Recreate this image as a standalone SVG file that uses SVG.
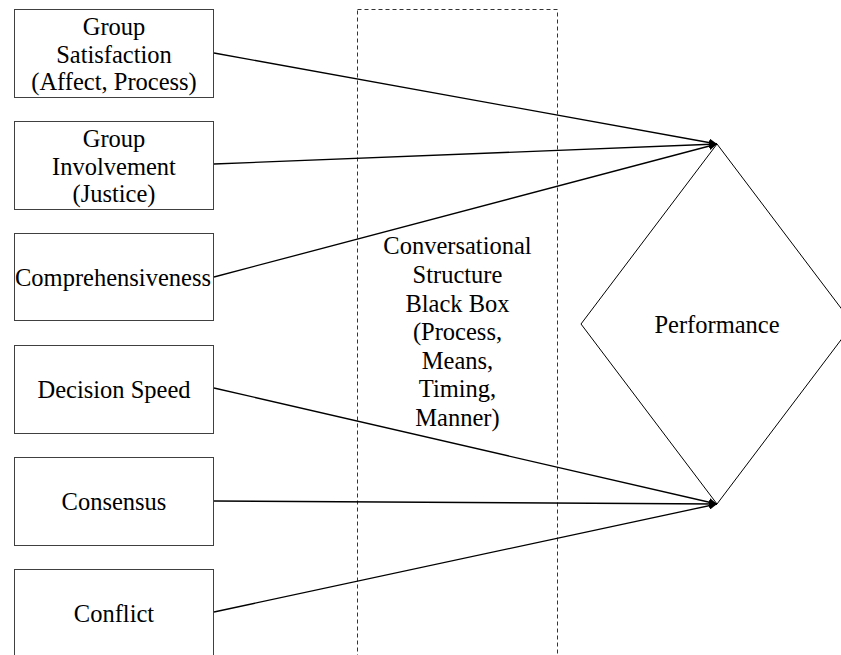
<svg xmlns="http://www.w3.org/2000/svg" width="841" height="655" viewBox="0 0 841 655">
<defs>
<style>
.box{fill:#fff;stroke:#404040;stroke-width:1}
.t{font-size:24.5px;fill:#000;text-anchor:middle}
.c{stroke:#000;stroke-width:1.3;fill:none;marker-end:url(#ah)}
</style>
<marker id="ah" viewBox="0 0 10 10" refX="10" refY="5" markerWidth="8" markerHeight="8" markerUnits="userSpaceOnUse" orient="auto">
<path d="M0,0 L10,5 L0,10 z" fill="#000"/>
</marker>
</defs>
<rect width="841" height="655" fill="#fff"/>
<g font-family="Times New Roman, Liberation Serif, DejaVu Serif, serif">
<g id="blackbox">
<rect x="357.5" y="9.5" width="200" height="660" fill="none" stroke="#333" stroke-width="1" stroke-dasharray="4,3"/>
<text class="t" x="457.5" y="254">Conversational</text>
<text class="t" x="457.5" y="283">Structure</text>
<text class="t" x="457.5" y="312">Black Box</text>
<text class="t" x="457.5" y="340">(Process,</text>
<text class="t" x="457.5" y="369">Means,</text>
<text class="t" x="457.5" y="397">Timing,</text>
<text class="t" x="457.5" y="426">Manner)</text>
</g>
<g id="performance">
<polygon points="717,144 853,324 717,504 581,324" fill="#fff" stroke="#000" stroke-width="1"/>
<text class="t" x="717" y="333">Performance</text>
</g>
<g id="n1">
<rect class="box" x="14.5" y="9.5" width="199" height="88"/>
<text class="t" x="114" y="35">Group</text>
<text class="t" x="114" y="63">Satisfaction</text>
<text class="t" x="114" y="90">(Affect, Process)</text>
</g>
<g id="n2">
<rect class="box" x="14.5" y="121.5" width="199" height="88"/>
<text class="t" x="114" y="147">Group</text>
<text class="t" x="114" y="175">Involvement</text>
<text class="t" x="114" y="202">(Justice)</text>
</g>
<g id="n3">
<rect class="box" x="14.5" y="233.5" width="199" height="87"/>
<text class="t" x="113" y="286">Comprehensiveness</text>
</g>
<g id="n4">
<rect class="box" x="14.5" y="345.5" width="199" height="88"/>
<text class="t" x="114" y="398">Decision Speed</text>
</g>
<g id="n5">
<rect class="box" x="14.5" y="457.5" width="199" height="88"/>
<text class="t" x="114" y="510">Consensus</text>
</g>
<g id="n6">
<rect class="box" x="14.5" y="569.5" width="199" height="88"/>
<text class="t" x="114" y="622">Conflict</text>
</g>
</g>
<g id="connectors">
<line class="c" x1="214" y1="53" x2="717" y2="144"/>
<line class="c" x1="214" y1="164" x2="717" y2="144"/>
<line class="c" x1="214" y1="277" x2="717" y2="144"/>
<line class="c" x1="214" y1="388" x2="717" y2="504"/>
<line class="c" x1="214" y1="501" x2="717" y2="504"/>
<line class="c" x1="214" y1="612" x2="717" y2="504"/>
</g>
</svg>
